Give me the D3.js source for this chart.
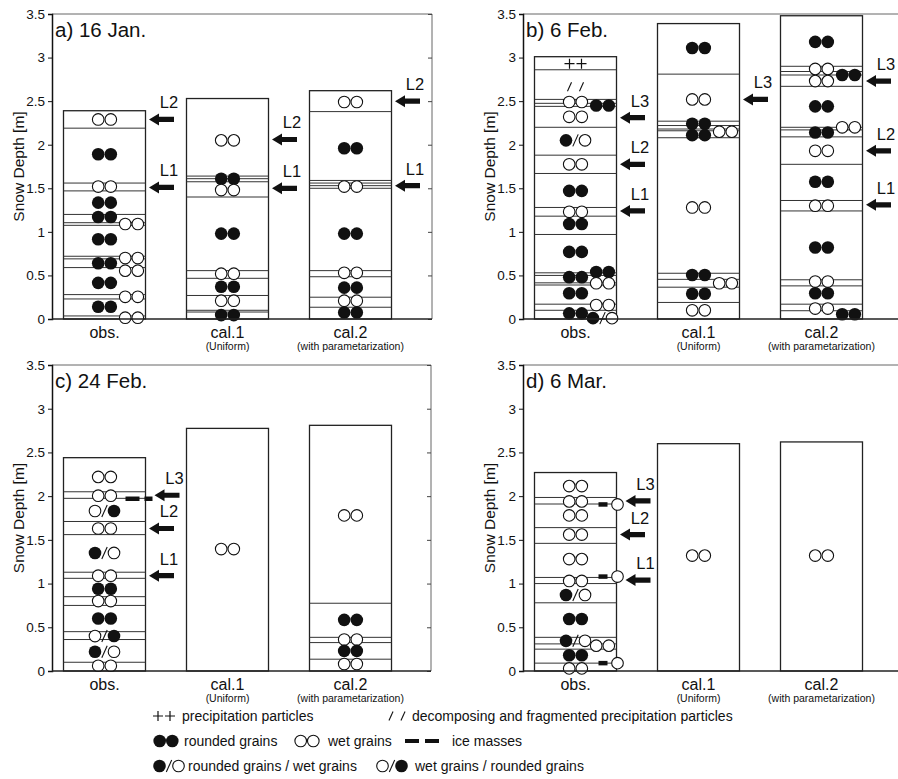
<!DOCTYPE html>
<html>
<head>
<meta charset="utf-8">
<script src="https://cdn.jsdelivr.net/npm/d3@7"></script>
<style>
  body { margin: 0; background: #fff; }
  text { font-family: "Liberation Sans", Arial, Helvetica, sans-serif; fill: #111; }
</style>
</head>
<body>
<svg id="chart" width="898" height="779"></svg>
<script>
// ---- data (snow depth in m) ----
var panelTitles = ["a) 16 Jan.", "b) 6 Feb.", "c) 24 Feb.", "d) 6 Mar."];
var columnNames = ["obs.", "cal.1", "cal.2"];
var columnNotes = ["", "(Uniform)", "(with parametarization)"];
var yTicks = [0, 0.5, 1, 1.5, 2, 2.5, 3, 3.5];

// grain codes: RR rounded grains, WW wet grains, R/W, W/R, ++ precipitation, // fragmented
// second field "r" = drawn at the right edge of the column
var aObsTop = 2.39;
var aObsLines = [2.19, 1.56, 1.47, 1.20, 1.105, 1.075, 0.72, 0.69, 0.59, 0.28, 0.23, 0.035];
var aObsGrains = [[2.29,"WW"],[1.89,"RR"],[1.52,"WW"],[1.335,"RR"],[1.17,"RR"],[1.09,"WW","r"],[0.915,"RR"],
  [0.70,"WW","r"],[0.64,"RR"],[0.555,"WW","r"],[0.415,"RR"],[0.255,"WW","r"],[0.14,"RR"],[0.015,"WW","r"]];
var aObsArrows = [[2.29,"L2"],[1.51,"L1"]];

var aCal1Top = 2.53;
var aCal1Lines = [1.64, 1.61, 1.575, 1.40, 0.555, 0.467, 0.27, 0.10, 0.08];
var aCal1Grains = [[2.05,"WW"],[1.61,"RR"],[1.48,"WW"],[0.98,"RR"],[0.52,"WW"],[0.37,"RR"],[0.21,"WW"],[0.045,"RR"]];
var aCal1Arrows = [[2.06,"L2"],[1.50,"L1"]];

var aCal2Top = 2.62;
var aCal2Lines = [2.38, 1.59, 1.56, 1.53, 1.50, 0.555, 0.485, 0.25, 0.135];
var aCal2Grains = [[2.49,"WW"],[1.96,"RR"],[1.52,"WW"],[0.98,"RR"],[0.53,"WW"],[0.36,"RR"],[0.21,"WW"],[0.075,"RR"]];
var aCal2Arrows = [[2.50,"L2"],[1.53,"L1"]];

var bObsTop = 3.01;
var bObsLines = [2.86, 2.52, 2.475, 2.44, 2.20, 1.88, 1.67, 1.28, 1.18, 0.97, 0.53, 0.50, 0.415, 0.39, 0.17, 0.10];
var bObsGrains = [[2.93,"++"],[2.665,"//"],[2.49,"WW"],[2.45,"RR","r"],[2.32,"WW"],[2.05,"R/W"],[1.775,"WW"],
  [1.47,"RR"],[1.23,"WW"],[1.09,"RR"],[0.77,"RR"],[0.54,"RR","r"],[0.48,"RR"],[0.41,"WW","r"],[0.295,"RR"],
  [0.16,"WW","r"],[0.065,"RR"],[0.01,"R/W","r"]];
var bObsArrows = [[2.31,"L3"],[1.775,"L2"],[1.24,"L1"]];

var bCal1Top = 3.39;
var bCal1Lines = [2.81, 2.27, 2.22, 2.18, 2.16, 2.08, 0.525, 0.455, 0.365, 0.19];
var bCal1Grains = [[3.11,"RR"],[2.52,"WW"],[2.24,"RR"],[2.15,"WW","r"],[2.11,"RR"],[1.28,"WW"],[0.505,"RR"],
  [0.41,"WW","r"],[0.29,"RR"],[0.10,"WW"]];
var bCal1Arrows = [[2.52,"L3"]];

var bCal2Top = 3.48;
var bCal2Lines = [2.90, 2.84, 2.80, 2.67, 2.20, 2.17, 2.09, 1.775, 1.36, 1.24, 0.45, 0.38, 0.17, 0.095];
var bCal2Grains = [[3.18,"RR"],[2.87,"WW"],[2.80,"RR","r"],[2.73,"WW"],[2.44,"RR"],[2.20,"WW","r"],[2.14,"RR"],
  [1.93,"WW"],[1.575,"RR"],[1.30,"WW"],[0.82,"RR"],[0.43,"WW"],[0.295,"RR"],[0.12,"WW"],[0.055,"RR","r"]];
var bCal2Arrows = [[2.73,"L3"],[1.93,"L2"],[1.31,"L1"]];

var cObsTop = 2.44;
var cObsLines = [2.05, 1.975, 1.71, 1.56, 1.13, 1.06, 0.85, 0.75, 0.45, 0.36, 0.10];
var cObsGrains = [[2.22,"WW"],[2.005,"WW"],[1.83,"W/R"],[1.63,"WW"],[1.35,"R/W"],[1.09,"WW"],[0.94,"RR"],
  [0.80,"WW"],[0.60,"RR"],[0.40,"W/R"],[0.22,"R/W"],[0.06,"WW"]];
var cObsArrows = [[2.01,"L3"],[1.63,"L2"],[1.09,"L1"]];
var cObsIce = [[1.97,"--"]];

var cCal1Top = 2.775;
var cCal1Grains = [[1.395,"WW"]];
var cCal2Top = 2.81;
var cCal2Lines = [0.775, 0.385, 0.325, 0.135];
var cCal2Grains = [[1.78,"WW"],[0.585,"RR"],[0.36,"WW"],[0.23,"RR"],[0.08,"WW"]];

var dObsTop = 2.27;
var dObsLines = [1.985, 1.91, 1.64, 1.46, 1.07, 1.00, 0.78, 0.385, 0.31, 0.25, 0.09];
var dObsGrains = [[2.115,"WW"],[1.94,"WW"],[1.78,"WW"],[1.56,"WW"],[1.28,"WW"],[1.03,"WW"],[0.87,"R/W"],
  [0.595,"RR"],[0.345,"R/W"],[0.29,"WW","r"],[0.18,"RR"],[0.03,"WW"]];
var dObsArrows = [[1.945,"L3"],[1.56,"L2"],[1.04,"L1"]];
var dObsIce = [[1.905,"-o"],[1.08,"-o"],[0.09,"-o"]];

var dCal1Top = 2.60;
var dCal1Grains = [[1.32,"WW"]];
var dCal2Top = 2.62;
var dCal2Grains = [[1.32,"WW"]];

// ---- assemble ----
function col(top, lines, grains, arrows, ice) {
  return {top: top, lines: lines || [], grains: grains || [], arrows: arrows || [], ice: ice || []};
}
var panels = [
  [col(aObsTop, aObsLines, aObsGrains, aObsArrows), col(aCal1Top, aCal1Lines, aCal1Grains, aCal1Arrows), col(aCal2Top, aCal2Lines, aCal2Grains, aCal2Arrows)],
  [col(bObsTop, bObsLines, bObsGrains, bObsArrows), col(bCal1Top, bCal1Lines, bCal1Grains, bCal1Arrows), col(bCal2Top, bCal2Lines, bCal2Grains, bCal2Arrows)],
  [col(cObsTop, cObsLines, cObsGrains, cObsArrows, cObsIce), col(cCal1Top, [], cCal1Grains), col(cCal2Top, cCal2Lines, cCal2Grains)],
  [col(dObsTop, dObsLines, dObsGrains, dObsArrows, dObsIce), col(dCal1Top, [], dCal1Grains), col(dCal2Top, [], dCal2Grains)]
];

var frames = [
  {x0: 52, x1: 432, top: 14, bottom: 319},
  {x0: 523, x1: 903, top: 14, bottom: 319},
  {x0: 52, x1: 431, top: 365, bottom: 671},
  {x0: 523, x1: 903, top: 365, bottom: 671}
];

var svg = d3.select("#chart");
var R = 6.3, RO = 5.8, colW = 82;

function filled(g, x, y) { g.append("circle").attr("cx", x).attr("cy", y).attr("r", R).attr("fill", "#111"); }
function open(g, x, y) {
  g.append("circle").attr("cx", x).attr("cy", y).attr("r", RO)
    .attr("fill", "#fff").attr("stroke", "#111").attr("stroke-width", 1.1);
}
function slash(g, x, y, h) {
  g.append("line").attr("x1", x - h * 0.45).attr("y1", y + h).attr("x2", x + h * 0.45).attr("y2", y - h)
    .attr("stroke", "#111").attr("stroke-width", 1.1);
}
function grain(g, x, y, type) {
  if (type === "RR") { filled(g, x - 6.3, y); filled(g, x + 6.3, y); }
  else if (type === "WW") { open(g, x - 6.3, y); open(g, x + 6.3, y); }
  else if (type === "R/W") { filled(g, x - 9.5, y); slash(g, x, y, 6); open(g, x + 9.5, y); }
  else if (type === "W/R") { open(g, x - 9.5, y); slash(g, x, y, 6); filled(g, x + 9.5, y); }
  else if (type === "++") {
    [-6, 6].forEach(function(dx) {
      g.append("path").attr("d", "M" + (x + dx - 5) + "," + y + "h10M" + (x + dx) + "," + (y - 5) + "v10")
        .attr("stroke", "#111").attr("stroke-width", 1.2);
    });
  }
  else if (type === "//") { slash(g, x - 6, y, 4.5); slash(g, x + 6, y, 4.5); }
}
function arrow(g, x, y) {
  g.append("path")
    .attr("d", "M" + x + "," + y + "L" + (x + 10) + "," + (y - 6) + "V" + (y - 2.6) + "H" + (x + 25) +
      "V" + (y + 2.6) + "H" + (x + 10) + "V" + (y + 6) + "Z")
    .attr("fill", "#111");
}

panels.forEach(function(cols, pi) {
  var f = frames[pi];
  var y = d3.scaleLinear().domain([0, 3.5]).range([f.bottom, f.top]);
  var x = d3.scalePoint().domain(columnNames).range([f.x0 + 52.5, f.x0 + 298.5]);
  var g = svg.append("g");

  // frame
  g.append("path").attr("d", "M" + f.x0 + "," + f.top + "H" + f.x1 + "V" + f.bottom)
    .attr("fill", "none").attr("stroke", "#666").attr("stroke-width", 1);
  g.append("g").attr("transform", "translate(" + f.x1 + ",0)")
    .call(d3.axisLeft(y).tickValues(yTicks).tickSize(4).tickFormat(""))
    .call(function(a) { a.select(".domain").remove(); a.selectAll("line").attr("stroke", "#444"); });

  var ax = g.append("g").attr("transform", "translate(" + f.x0 + ",0)")
    .call(d3.axisLeft(y).tickValues(yTicks).tickSize(4).tickPadding(3).tickFormat(d3.format("")));
  ax.select(".domain").attr("stroke", "#111").attr("stroke-width", 1.5);
  ax.selectAll("line").attr("stroke", "#111");
  ax.selectAll("text").attr("font-size", 13.5).attr("fill", "#111")
    .attr("font-family", "Liberation Sans, Arial, sans-serif");

  g.append("text").attr("transform", "translate(" + (f.x0 - 28) + "," + ((f.top + f.bottom) / 2) + ") rotate(-90)")
    .attr("text-anchor", "middle").attr("font-size", 15.5).text("Snow Depth [m]");
  g.append("text").attr("x", f.x0 + 3).attr("y", f.top + 23).attr("font-size", 20.5).text(panelTitles[pi]);

  cols.forEach(function(c, ci) {
    var cx = x(columnNames[ci]), left = cx - colW / 2, right = cx + colW / 2;
    var cg = g.append("g");
    cg.append("rect").attr("x", left).attr("y", y(c.top)).attr("width", colW).attr("height", y(0) - y(c.top))
      .attr("fill", "#fff").attr("stroke", "#222").attr("stroke-width", 1.3);
    c.lines.forEach(function(v) {
      cg.append("line").attr("x1", left).attr("x2", right).attr("y1", y(v)).attr("y2", y(v))
        .attr("stroke", "#333").attr("stroke-width", 1);
    });
    c.ice.forEach(function(ic) {
      var yy = y(ic[0]);
      if (ic[1] === "--") {
        cg.append("line").attr("x1", right - 20).attr("x2", right - 6).attr("y1", yy).attr("y2", yy)
          .attr("stroke", "#111").attr("stroke-width", 4.5);
        cg.append("line").attr("x1", right - 1).attr("x2", right + 7).attr("y1", yy).attr("y2", yy)
          .attr("stroke", "#111").attr("stroke-width", 4.5);
      } else {
        cg.append("line").attr("x1", right - 18).attr("x2", right - 9).attr("y1", yy).attr("y2", yy)
          .attr("stroke", "#111").attr("stroke-width", 4.5);
        open(cg, right + 1, yy);
      }
    });
    c.grains.forEach(function(gr) {
      grain(cg, gr[2] === "r" ? right - 14 : cx, y(gr[0]), gr[1]);
    });
    c.arrows.forEach(function(ar) {
      var nearIce = c.ice.some(function(ic) { return Math.abs(ic[0] - ar[0]) < 0.1; });
      var ax0 = right + (nearIce ? 9 : 3.5);
      arrow(cg, ax0, y(ar[0]));
      cg.append("text").attr("x", ax0 + 20).attr("y", y(ar[0]) - 11).attr("text-anchor", "middle")
        .attr("font-size", 16.5).text(ar[1]);
    });
    g.append("text").attr("x", cx).attr("y", f.bottom + 19).attr("text-anchor", "middle")
      .attr("font-size", 16).text(columnNames[ci]);
    if (columnNotes[ci]) {
      g.append("text").attr("x", cx).attr("y", f.bottom + 31).attr("text-anchor", "middle")
        .attr("font-size", 10.5).text(columnNotes[ci]);
    }
  });

  g.append("line").attr("x1", f.x0).attr("x2", f.x1).attr("y1", f.bottom).attr("y2", f.bottom)
    .attr("stroke", "#222").attr("stroke-width", 1.5);
});

// ---- legend ----
var lg = svg.append("g");
function ltext(x, y, s) { lg.append("text").attr("x", x).attr("y", y + 5).attr("font-size", 14).text(s); }
grain(lg, 164, 716, "++"); ltext(182, 716, "precipitation particles");
grain(lg, 397, 716, "//"); ltext(412, 716, "decomposing and fragmented precipitation particles");
grain(lg, 166, 741, "RR"); ltext(184, 741, "rounded grains");
grain(lg, 307, 741, "WW"); ltext(328, 741, "wet grains");
lg.append("line").attr("x1", 405).attr("x2", 419).attr("y1", 741).attr("y2", 741).attr("stroke", "#111").attr("stroke-width", 4);
lg.append("line").attr("x1", 425).attr("x2", 439).attr("y1", 741).attr("y2", 741).attr("stroke", "#111").attr("stroke-width", 4);
ltext(452, 741, "ice masses");
grain(lg, 169, 766, "R/W"); ltext(188, 766, "rounded grains / wet grains");
grain(lg, 392, 766, "W/R"); ltext(415, 766, "wet grains / rounded grains");
</script>
</body>
</html>
